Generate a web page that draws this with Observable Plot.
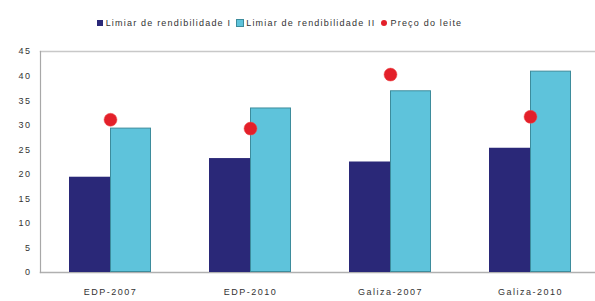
<!DOCTYPE html>
<html>
<head>
<meta charset="utf-8">
<script src="https://cdn.jsdelivr.net/npm/d3@7"></script>
<script src="https://cdn.jsdelivr.net/npm/@observablehq/plot@0.6"></script>
<style>
  body { margin: 0; background: #fff; font-family: "Liberation Sans", Arial, sans-serif; }
  #legend { height: 40px; display: flex; align-items: center; justify-content: center; font-size: 9px; letter-spacing: 1.2px; color: #333; padding-right: 36px; padding-top: 5px; box-sizing: border-box; }
  .item { display: flex; align-items: center; margin: 0 3px; }
  .sw { width: 6px; height: 6px; margin-right: 3px; }
  .dotsw { width: 6px; height: 6px; border-radius: 50%; margin-right: 3px; }
</style>
</head>
<body>
<div id="legend"></div>
<div id="chart"></div>
<script>
const categories = ["EDP-2007", "EDP-2010", "Galiza-2007", "Galiza-2010"];
const seriesNames = ["Limiar de rendibilidade I", "Limiar de rendibilidade II", "Preço do leite"];
const limiarI = [19.4, 23.2, 22.5, 25.3];
const limiarII = [29.4, 33.5, 37.0, 41.0];
const precoLeite = [31.1, 29.3, 40.3, 31.7];
const yTicks = [0, 5, 10, 15, 20, 25, 30, 35, 40, 45];

const colors = { I: "#2a2878", II: "#5ec3db", leite: "#e3202a", IIstroke: "#3d8c9c" };

const bars = [];
categories.forEach((c, i) => {
  bars.push({ cat: c, s: "I", v: limiarI[i] });
  bars.push({ cat: c, s: "II", v: limiarII[i] });
});
const dots = categories.map((c, i) => ({ cat: c, v: precoLeite[i] }));

// legend
const legend = document.getElementById("legend");
legend.innerHTML = `
  <span class="item"><span class="sw" style="background:${colors.I}"></span>${seriesNames[0]}</span>
  <span class="item"><span class="sw" style="background:${colors.II};outline:1px solid ${colors.IIstroke}"></span>${seriesNames[1]}</span>
  <span class="item"><span class="dotsw" style="background:${colors.leite}"></span>${seriesNames[2]}</span>`;

const chart = Plot.plot({
  width: 595,
  height: 261,
  marginTop: 11,
  marginBottom: 29,
  marginLeft: 40,
  marginRight: 0,
  style: { fontFamily: "Liberation Sans, Arial, sans-serif", fontSize: "9px", letterSpacing: "1.5px", color: "#333" },
  fx: { domain: categories, range: [40, 600], padding: 0, label: null, tickSize: 0, tickPadding: 16 },
  x: { domain: ["I", "II"], paddingInner: 0, paddingOuter: 0.707, axis: null },
  y: { domain: [0, 45], ticks: yTicks, tickSize: 0, tickPadding: 9, label: null, line: true },
  color: { domain: ["I", "II"], range: [colors.I, colors.II] },
  marks: [
    Plot.frame({ anchor: "top", facet: "super", stroke: "#c8c8c8", strokeWidth: 1.5 }),
    Plot.frame({ anchor: "bottom", facet: "super", stroke: "#b0b0b0", strokeWidth: 1.5 }),
    Plot.frame({ anchor: "left", facet: "super", stroke: "#a8a8a8", strokeWidth: 1.2 }),
    Plot.barY(bars.filter(d => d.s === "I"), { fx: "cat", x: "s", y: "v", fill: colors.I, inset: 0 }),
    Plot.barY(bars.filter(d => d.s === "II"), { fx: "cat", x: "s", y: "v", fill: colors.II, stroke: colors.IIstroke, strokeWidth: 1, inset: 0.5 }),
    Plot.dot(dots, { fx: "cat", y: "v", r: 6.5, fill: colors.leite, stroke: "#f05050", strokeWidth: 0.5 })
  ]
});
document.getElementById("chart").appendChild(chart);
</script>
</body>
</html>
